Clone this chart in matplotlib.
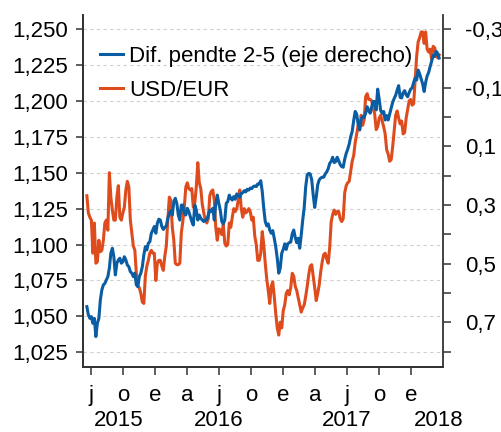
import matplotlib
matplotlib.use("Agg")
import matplotlib.pyplot as plt
import pandas as pd

plt.rcParams['font.family'] = ['Liberation Sans', 'DejaVu Sans']

# USD/EUR (eje izquierdo)
usd_eur = [
    1.134, 1.122, 1.119, 1.117, 1.094, 1.115, 1.087, 1.088, 1.103, 1.095,
    1.096, 1.103, 1.115, 1.117, 1.110, 1.150, 1.133, 1.124, 1.117, 1.117,
    1.133, 1.141, 1.119, 1.117, 1.122, 1.126, 1.138, 1.144, 1.140, 1.117,
    1.108, 1.099, 1.096, 1.080, 1.071, 1.070, 1.066, 1.060, 1.059, 1.078,
    1.085, 1.089, 1.094, 1.096, 1.094, 1.094, 1.075, 1.087, 1.089, 1.089,
    1.085, 1.082, 1.092, 1.099, 1.117, 1.133, 1.131, 1.112, 1.103,
    1.087, 1.086, 1.086, 1.087, 1.108, 1.116, 1.126, 1.140, 1.143, 1.139,
    1.138, 1.139, 1.126, 1.129, 1.140, 1.157, 1.143, 1.139, 1.128, 1.122,
    1.117, 1.115, 1.118, 1.134, 1.137, 1.138, 1.131, 1.112, 1.103, 1.111,
    1.110, 1.107, 1.114, 1.101, 1.099, 1.100, 1.115, 1.112, 1.119, 1.125,
    1.123, 1.125, 1.131, 1.138, 1.125, 1.119, 1.125, 1.122, 1.123, 1.125,
    1.123, 1.117, 1.119, 1.106, 1.100, 1.089,
    1.089, 1.094, 1.109, 1.100, 1.087, 1.076, 1.068, 1.059, 1.071, 1.074,
    1.064, 1.052, 1.042, 1.037, 1.046, 1.042, 1.054, 1.058, 1.066, 1.068,
    1.065, 1.070, 1.080, 1.078, 1.071, 1.068, 1.063, 1.058, 1.053, 1.056,
    1.058, 1.064, 1.071, 1.079, 1.085, 1.086, 1.078, 1.070, 1.061, 1.066,
    1.072, 1.081, 1.088, 1.093, 1.094, 1.090, 1.087, 1.098, 1.116, 1.121,
    1.124, 1.121, 1.123, 1.123, 1.118, 1.116, 1.118, 1.136, 1.141, 1.143,
    1.144, 1.151, 1.158, 1.162, 1.171, 1.177, 1.183, 1.180, 1.190, 1.183,
    1.187, 1.203, 1.205, 1.201, 1.201, 1.200, 1.195, 1.191, 1.180, 1.182,
    1.188, 1.190, 1.186, 1.182, 1.177, 1.166, 1.163, 1.158, 1.159, 1.168,
    1.179, 1.190, 1.193, 1.188, 1.184, 1.186, 1.177, 1.178, 1.188, 1.194,
    1.200, 1.201, 1.197, 1.198, 1.215, 1.231, 1.241, 1.244, 1.248, 1.248,
    1.240, 1.248, 1.236, 1.234, 1.236, 1.229, 1.238, 1.237, 1.232, 1.230,
    1.232,
]

# Diferencial de pendiente 2-5 (eje derecho, invertido)
dif_pendiente = [
    0.646, 0.674, 0.686, 0.680, 0.703, 0.686, 0.748, 0.703, 0.686, 0.623,
    0.589, 0.572, 0.567, 0.555, 0.544, 0.515, 0.464, 0.447, 0.476, 0.538,
    0.498, 0.487, 0.481, 0.498, 0.493, 0.476, 0.487, 0.504, 0.510, 0.527,
    0.532, 0.544, 0.532, 0.572, 0.578, 0.544, 0.532, 0.510, 0.470, 0.442,
    0.453, 0.430, 0.425, 0.396, 0.385, 0.373, 0.396, 0.362, 0.348, 0.351,
    0.373, 0.383, 0.376, 0.371, 0.345, 0.328, 0.319, 0.334, 0.288,
    0.277, 0.294, 0.334, 0.351, 0.300, 0.300, 0.328, 0.334, 0.311, 0.322,
    0.339, 0.356, 0.368, 0.300, 0.317, 0.351, 0.334, 0.345, 0.351, 0.356,
    0.351, 0.351, 0.334, 0.317, 0.322, 0.311, 0.351, 0.294, 0.266, 0.294,
    0.317, 0.356, 0.364, 0.351, 0.294, 0.288, 0.266, 0.277, 0.283, 0.271,
    0.280, 0.262, 0.266, 0.273, 0.260, 0.258, 0.251, 0.255, 0.246, 0.249,
    0.242, 0.244, 0.237, 0.235, 0.237, 0.228,
    0.228, 0.217, 0.254, 0.311, 0.356, 0.371, 0.364, 0.385, 0.396, 0.387,
    0.413, 0.442, 0.481, 0.532, 0.515, 0.464, 0.451, 0.432, 0.451, 0.432,
    0.428, 0.426, 0.398, 0.385, 0.410, 0.428, 0.413, 0.447, 0.402, 0.351,
    0.308, 0.237, 0.197, 0.192, 0.194, 0.214, 0.266, 0.308, 0.273, 0.231,
    0.214, 0.208, 0.205, 0.205, 0.194, 0.187, 0.176, 0.158, 0.151, 0.137,
    0.155, 0.152, 0.137, 0.149, 0.162, 0.169, 0.171, 0.144, 0.124, 0.110,
    0.092, 0.067, 0.049, 0.012, -0.019, -0.010, 0.026, 0.044, 0.007, -0.001,
    0.001, -0.013, -0.035, -0.022, -0.013, -0.035, -0.053, -0.053, -0.024, -0.095,
    -0.061, -0.022, -0.013, -0.019, 0.010, -0.005, 0.010, -0.010, -0.031, -0.050,
    -0.063, -0.074, -0.092, -0.107, -0.067, -0.065, -0.083, -0.090, -0.076, -0.069,
    -0.083, -0.095, -0.099, -0.118, -0.133, -0.126, -0.160, -0.147, -0.130, -0.113,
    -0.087, -0.118, -0.140, -0.152, -0.172, -0.190, -0.210, -0.206, -0.224, -0.217,
    -0.201,
]

fechas = pd.date_range('2015-06-20', '2018-03-22', periods=len(usd_eur))

meses_fechas = pd.to_datetime([
    '2015-07-01', '2015-10-01', '2016-01-01', '2016-04-01', '2016-07-01',
    '2016-10-01', '2017-01-01', '2017-04-01', '2017-07-01', '2017-10-01',
    '2018-01-01'])
meses_etiquetas = ['j', 'o', 'e', 'a', 'j', 'o', 'e', 'a', 'j', 'o', 'e']
anios = ['2015', '2016', '2017', '2018']
anios_fechas = pd.to_datetime(['2015-09-20', '2016-07-01', '2017-07-01', '2018-03-22'])

izq_ticks = [1.025, 1.050, 1.075, 1.100, 1.125, 1.150, 1.175, 1.200, 1.225, 1.250]
der_ticks = [-0.3, -0.1, 0.1, 0.3, 0.5, 0.7]
der_ticks_menores = [-0.2, 0.0, 0.2, 0.4, 0.6, 0.8]

AZUL = '#0a5ca3'
NARANJA = '#de4c1e'
GRIS = '#333333'
FS = 16

fig = plt.figure(figsize=(5.01, 4.32), dpi=100)
ax = fig.add_axes([0.1657, 0.1512, 0.7185, 0.8148])
ax2 = ax.twinx()

ax.plot(fechas, usd_eur, color=NARANJA, lw=2.2, label='USD/EUR')
ax2.plot(fechas, dif_pendiente, color=AZUL, lw=2.2, label='Dif. pendte 2-5 (eje derecho)')

ax.set_xlim(pd.Timestamp('2015-06-09'), pd.Timestamp('2018-04-02'))
ax.set_ylim(1.015, 1.26)
ax2.set_ylim(0.8506, -0.3487)

# eje izquierdo
ax.set_yticks(izq_ticks)
ax.set_yticklabels([f'{v:.3f}'.replace('.', ',') for v in izq_ticks])
ax.grid(axis='y', color='#cfcfcf', linestyle=(0, (3, 3)), linewidth=0.8)
ax.set_axisbelow(True)

# eje derecho
ax2.set_yticks(der_ticks)
ax2.set_yticklabels([f'{v:.1f}'.replace('.', ',') for v in der_ticks])
ax2.set_yticks(der_ticks_menores, minor=True)

# eje x
ax.set_xticks(meses_fechas)
ax.set_xticklabels(meses_etiquetas)
for fecha, anio in zip(anios_fechas, anios):
    ax.text(fecha, -0.152, anio, transform=ax.get_xaxis_transform(),
            ha='center', va='center', fontsize=FS)

for a in (ax, ax2):
    a.spines['top'].set_visible(False)
    for s in ('left', 'right', 'bottom'):
        a.spines[s].set_color(GRIS)
        a.spines[s].set_linewidth(1.3)
    a.tick_params(which='both', direction='out', color=GRIS, width=1.1,
                  length=5, labelsize=FS, labelcolor='black', pad=6)

ax.tick_params(axis='x', length=6, pad=7)
ax2.tick_params(axis='y', which='both', length=6, pad=10)
ax.spines['right'].set_visible(False)

lineas = ax2.get_lines() + ax.get_lines()
leg = ax2.legend(lineas, [l.get_label() for l in lineas], loc='upper left',
                 bbox_to_anchor=(0.048, 0.912), frameon=False, fontsize=FS,
                 handlelength=1.0, handletextpad=0.3, labelspacing=0.6,
                 borderpad=0, borderaxespad=0)
leg.set_zorder(1)  # las lineas pasan por encima del texto, como en el original

fig.savefig('out.png', dpi=100)
